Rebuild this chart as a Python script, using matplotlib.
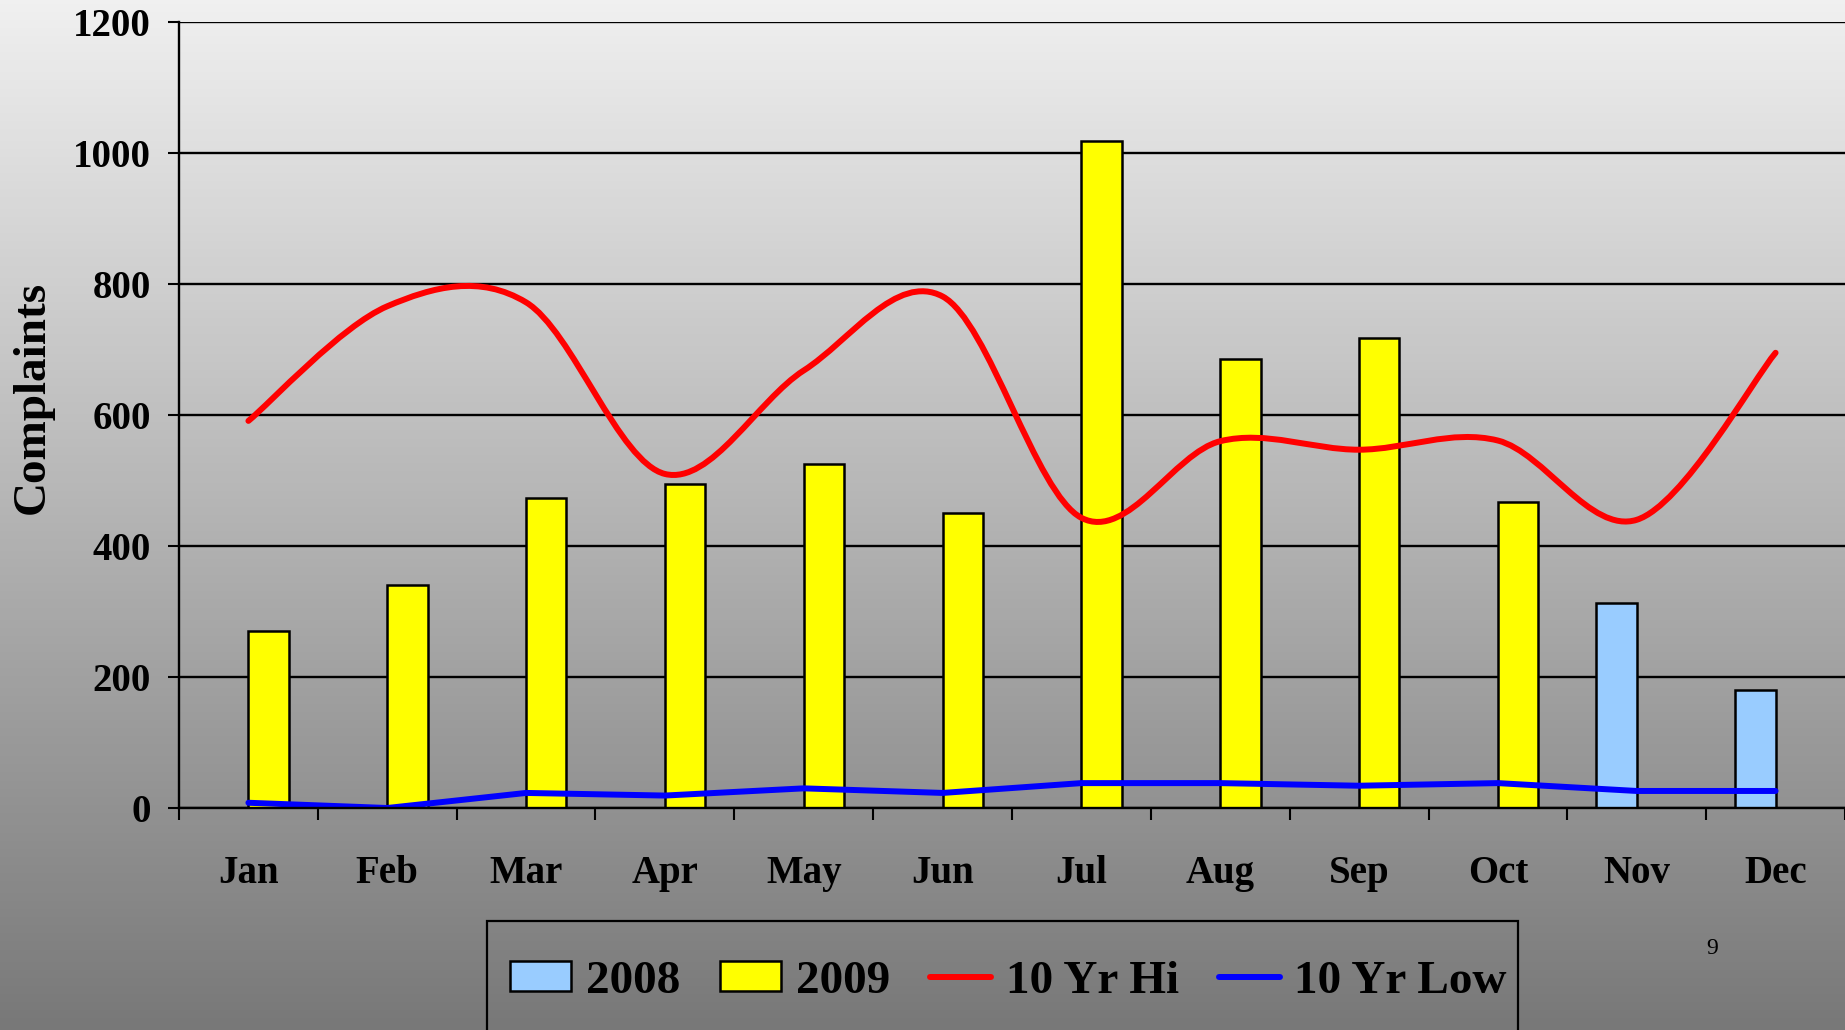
"""Monthly complaints: 2008/2009 bars against 10-year high and low lines."""

import matplotlib

matplotlib.use("Agg")
import matplotlib.pyplot as plt
import numpy as np
from matplotlib.lines import Line2D
from matplotlib.patches import Patch, PathPatch, Rectangle
from matplotlib.path import Path

months = ["Jan", "Feb", "Mar", "Apr", "May", "Jun", "Jul", "Aug", "Sep", "Oct", "Nov", "Dec"]
complaints_2008 = [0, 0, 0, 0, 0, 0, 0, 0, 0, 0, 313, 180]
complaints_2009 = [270, 341, 474, 494, 525, 451, 1018, 686, 717, 467, 0, 0]
ten_yr_hi = [591, 766, 772, 510, 668, 781, 443, 560, 547, 561, 440, 695]
ten_yr_low = [8, 0, 23, 19, 30, 23, 38, 38, 34, 38, 26, 26]
y_ticks = [0, 200, 400, 600, 800, 1000, 1200]

SERIF = ["Liberation Serif", "DejaVu Serif"]
BLUE_BAR = "#99CCFF"
YELLOW_BAR = "#FFFF00"
W, H = 1845, 1030


def smooth_path(xs, ys):
    # Excel-style smoothed line: cubic Bezier through every point
    pts = np.column_stack([xs, ys]).astype(float)
    n = len(pts)
    verts = [pts[0]]
    codes = [Path.MOVETO]
    for i in range(n - 1):
        prev_pt = pts[max(i - 1, 0)]
        next_pt = pts[min(i + 2, n - 1)]
        c1 = pts[i] + (pts[i + 1] - prev_pt) / 6.0
        c2 = pts[i + 1] - (next_pt - pts[i]) / 6.0
        verts += [c1, c2, pts[i + 1]]
        codes += [Path.CURVE4] * 3
    return Path(verts, codes)


def main() -> None:
    plt.rcParams["font.family"] = SERIF
    fig = plt.figure(figsize=(W / 100, H / 100), dpi=100)

    # vertical grey gradient behind everything
    bg = fig.add_axes([0, 0, 1, 1], zorder=-10)
    shade = np.linspace(0xF0, 0x78, 256)[:, None] / 255.0
    bg.imshow(np.dstack([shade] * 3), aspect="auto", extent=[0, 1, 0, 1])
    bg.set_axis_off()

    ax = fig.add_axes([179 / W, 1 - 808 / H, 1 - 179 / W, (808 - 22) / H])
    ax.set_facecolor("none")
    x = np.arange(len(months))
    width = 0.29

    ax.bar(x - width / 2, complaints_2008, width, color=BLUE_BAR, edgecolor="black", linewidth=1.8, zorder=2)
    ax.bar(x + width / 2, complaints_2009, width, color=YELLOW_BAR, edgecolor="black", linewidth=1.8, zorder=2)
    ax.add_patch(
        PathPatch(smooth_path(x, ten_yr_hi), fill=False, edgecolor="#FF0000", linewidth=4.3,
                  capstyle="round", joinstyle="round", zorder=3)
    )
    ax.plot(x, ten_yr_low, color="#0000FF", linewidth=4.3, solid_capstyle="round", zorder=3)

    ax.set_xlim(-0.5, len(months) - 0.5)
    ax.set_ylim(0, 1200)
    ax.set_yticks(y_ticks)
    ax.set_yticklabels([str(v) for v in y_ticks], fontsize=28, fontweight="bold", family=SERIF)
    ax.set_xticks(x)
    ax.set_xticklabels(months, fontsize=28, fontweight="bold", family=SERIF)
    ax.set_xticks(np.arange(-0.5, len(months)), minor=True)
    ax.tick_params(axis="x", which="major", length=0, pad=34)
    ax.tick_params(axis="x", which="minor", length=8.5, width=1.5, direction="out")
    ax.tick_params(axis="y", length=8, width=1.5, direction="out", pad=12)
    ax.yaxis.grid(True, color="black", linewidth=1.7)
    ax.set_axisbelow(True)
    for side in ("top", "right"):
        ax.spines[side].set_visible(False)
    for side in ("left", "bottom"):
        ax.spines[side].set_linewidth(1.7)
        ax.spines[side].set_zorder(4)

    fig.text(33 / W, 0.614, "Complaints", rotation=90, ha="center", va="center",
             fontsize=34, fontweight="bold", family=SERIF)
    fig.text(1712 / W, 1 - 948 / H, "9", ha="center", va="center", fontsize=17, family=SERIF)

    # legend box runs off the bottom of the slide
    fig.patches.append(
        Rectangle((487 / W, -0.05), (1518 - 487) / W, (H - 921) / H + 0.05, transform=fig.transFigure,
                  fill=False, edgecolor="black", linewidth=1.6)
    )
    handles = [
        Patch(facecolor=BLUE_BAR, edgecolor="black", linewidth=1.8),
        Patch(facecolor=YELLOW_BAR, edgecolor="black", linewidth=1.8),
        Line2D([], [], color="#FF0000", linewidth=4.3, solid_capstyle="round"),
        Line2D([], [], color="#0000FF", linewidth=4.3, solid_capstyle="round"),
    ]
    fig.legend(
        handles, ["2008", "2009", "10 Yr Hi", "10 Yr Low"],
        loc="center left", bbox_to_anchor=(510 / W, 1 - 982 / H), ncol=4,
        prop={"family": SERIF, "weight": "bold", "size": 34},
        frameon=False, handlelength=1.3, handleheight=0.6, handletextpad=0.3,
        columnspacing=0.85, borderpad=0, borderaxespad=0,
    )

    fig.savefig("out.png", dpi=100)
    plt.close(fig)


if __name__ == "__main__":
    main()
